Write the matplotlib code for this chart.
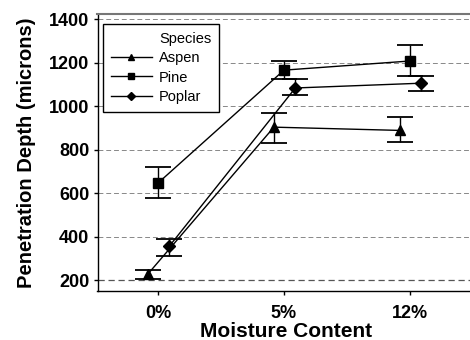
import matplotlib
matplotlib.use("Agg")
import matplotlib.pyplot as plt
from matplotlib.lines import Line2D
import numpy as np

categories = ["0%", "5%", "12%"]
species = ["Aspen", "Pine", "Poplar"]
means = {
    "Aspen": [228, 903, 888],
    "Pine": [646, 1165, 1207],
    "Poplar": [356, 1083, 1105],
}
err_low = {
    "Aspen": [25, 73, 53],
    "Pine": [69, 41, 69],
    "Poplar": [46, 33, 36],
}
err_high = {
    "Aspen": [18, 65, 62],
    "Pine": [74, 42, 73],
    "Poplar": [32, 41, 33],
}
offsets = {"Aspen": -0.08, "Pine": 0.0, "Poplar": 0.09}
markers = {"Aspen": "^", "Pine": "s", "Poplar": "D"}
msizes = {"Aspen": 7, "Pine": 7, "Poplar": 6}
yticks = [200, 400, 600, 800, 1000, 1200, 1400]

plt.rcParams['font.family'] = ['Liberation Sans', 'DejaVu Sans']
fig = plt.figure(figsize=(4.7, 3.4), dpi=100)
ax = fig.add_axes([97.5 / 470, 49 / 340, 3 * 126 / 470, (291 - 14) / 340])

x = np.arange(len(categories))
for sp in species:
    xs = x + offsets[sp]
    ax.errorbar(xs, means[sp], yerr=[err_low[sp], err_high[sp]],
                color='black', marker=markers[sp], markersize=msizes[sp],
                linewidth=1.0, elinewidth=1.0, capsize=9.5, capthick=1.3,
                zorder=3)

ax.set_xlim(-0.48, 2.52)
ax.set_ylim(150, 1423)
ax.set_xticks(x)
ax.set_xticklabels(categories, fontweight='bold', fontsize=13)
ax.set_yticks(yticks)
ax.set_yticklabels([str(v) for v in yticks], fontweight='bold', fontsize=13)
for v in yticks:
    ax.axhline(v, color='#555555' if v == 200 else '#888888', linestyle=(0, (5, 3)),
               linewidth=0.9 if v == 200 else 0.7, zorder=1)

ax.spines['right'].set_visible(False)
ax.spines['top'].set_color('#777777')
ax.spines['top'].set_linewidth(1.5)
ax.spines['left'].set_linewidth(1.0)
ax.spines['bottom'].set_linewidth(1.0)
ax.tick_params(axis='y', direction='out', length=3, width=1, pad=3)
ax.tick_params(axis='x', direction='out', length=3, width=1, pad=7)

ax.set_xlabel("Moisture Content", fontweight='bold', fontsize=15, labelpad=0)
ax.set_ylabel("Penetration Depth (microns)", fontweight='bold', fontsize=14.5, labelpad=9)

handles = [Line2D([], [], linestyle='none', marker='none')]
labels = ["Species"]
for sp in species:
    handles.append(Line2D([], [], color='black', linewidth=1.0, marker=markers[sp],
                          markersize=5 if sp != "Poplar" else 4.5))
    labels.append(sp)
leg = ax.legend(handles, labels, loc='upper left',
                bbox_to_anchor=(103 / 470, 1 - 24 / 340), bbox_transform=fig.transFigure,
                fontsize=10.5, frameon=True, fancybox=False,
                edgecolor='black', framealpha=1, borderpad=0.55, labelspacing=0.36,
                handlelength=2.8, handletextpad=0.5, borderaxespad=0)
leg.get_frame().set_linewidth(1.0)

fig.savefig("out.png", dpi=100)
